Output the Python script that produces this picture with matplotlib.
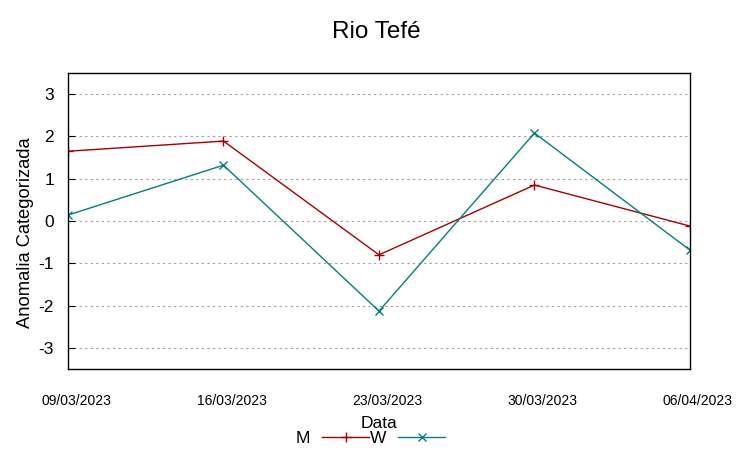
import numpy as np
import matplotlib.pyplot as plt
from matplotlib import transforms

dates = ['09/03/2023', '16/03/2023', '23/03/2023', '30/03/2023', '06/04/2023']
m_vals = [1.65, 1.89, -0.80, 0.85, -0.12]
w_vals = [0.14, 1.32, -2.13, 2.08, -0.69]

plt.rcParams['font.family'] = ['Liberation Sans', 'DejaVu Sans']
plt.rcParams['axes.unicode_minus'] = False

fig = plt.figure(figsize=(7.53, 4.58), dpi=100)
ax = fig.add_axes([0.0903, 0.1943, 0.8260, 0.6463])

x = np.arange(len(dates))
ax.plot(x, m_vals, color='#a80000', lw=1, marker='+', ms=7, mew=1, label='M')
ax.plot(x, w_vals, color='#008080', lw=1, marker='x', ms=6, mew=1, label='W')

ax.set_xlim(0, len(dates) - 1)
ax.set_ylim(-3.5, 3.5)
ax.set_yticks([-3, -2, -1, 0, 1, 2, 3])
ax.set_xticks(x)
ax.set_xticklabels([])
ax.tick_params(axis='y', direction='in', length=5, labelsize=12.5, pad=10)
ax.tick_params(axis='x', length=0)
ax.grid(axis='y', color='#a0a0a0', ls=(0, (2, 3)), lw=0.8)
for s in ax.spines.values():
    s.set_linewidth(1)

# gnuplot puts the date labels a little to the right of the ticks
trans = ax.get_xaxis_transform() + transforms.ScaledTranslation(8 / 100, -32 / 100, fig.dpi_scale_trans)
for xi, d in zip(x, dates):
    ax.text(xi, 0, d, transform=trans, ha='center', va='center', fontsize=10)

ax.set_xlabel('Data', fontsize=12.5, labelpad=30)
ax.set_ylabel('Anomalia Categorizada', fontsize=13.2)
ax.yaxis.set_label_coords(-0.054, 0.46)
fig.suptitle('Rio Tefé', fontsize=17.5, y=0.955)

fig.legend(loc='center', bbox_to_anchor=(0.492, 0.043), ncol=2, frameon=False,
           markerfirst=False, handlelength=2.7, columnspacing=0.05, handletextpad=0.7,
           fontsize=12.5)

fig.savefig('out.png', dpi=100)
